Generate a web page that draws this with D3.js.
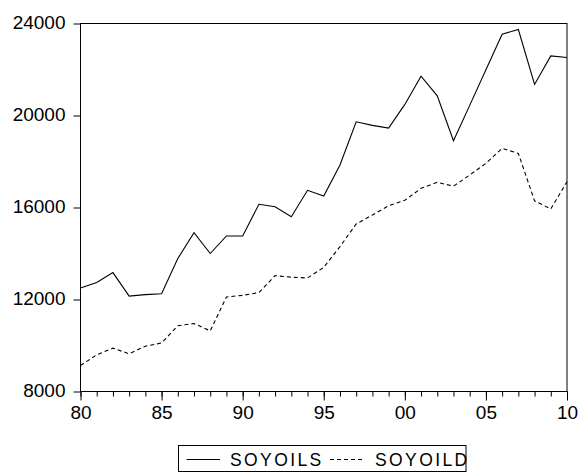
<!DOCTYPE html>
<html>
<head>
<meta charset="utf-8">
<script src="https://cdn.jsdelivr.net/npm/d3@7/dist/d3.min.js"></script>
<style>
  html, body { margin: 0; padding: 0; background: #fff; }
  svg { display: block; }
  text { font-family: "Liberation Sans", Arial, sans-serif; fill: #000; }
</style>
</head>
<body>
<svg id="chart" width="581" height="475"></svg>
<script>
const years = [1980,1981,1982,1983,1984,1985,1986,1987,1988,1989,1990,1991,1992,1993,1994,1995,1996,1997,1998,1999,2000,2001,2002,2003,2004,2005,2006,2007,2008,2009,2010];
const soyoils = [12500,12740,13170,12150,12210,12250,13780,14906,14000,14762,14762,16139,16035,15601,16747,16500,17846,19727,19570,19453,20482,21711,20856,18900,20440,21985,23535,23739,21351,22593,22523];
const soyoild = [9130,9594,9885,9640,9970,10110,10860,10954,10637,12113,12180,12300,13038,12969,12935,13400,14298,15284,15675,16078,16313,16834,17095,16925,17412,17920,18571,18354,16290,15940,17121];
const seriesNames = ["SOYOILS", "SOYOILD"];
const yTicks = [8000, 12000, 16000, 20000, 24000];
const xMajorTicks = [1980, 1985, 1990, 1995, 2000, 2005, 2010];
const xTickLabels = ["80", "85", "90", "95", "00", "05", "10"];

const svg = d3.select("#chart");
const L = 80.5, R = 567, T = 23.5, B = 391.5;
const x = d3.scaleLinear().domain([1980, 2010]).range([L, R]);
const y = d3.scaleLinear().domain([8000, 24000]).range([B, T]);

// frame
svg.append("rect").attr("x", L).attr("y", T).attr("width", R - L).attr("height", B - T)
  .attr("fill", "none").attr("stroke", "#000").attr("stroke-width", 1);

// y axis
const yAxis = d3.axisLeft(y).tickValues(yTicks).tickSize(7).tickPadding(8).tickFormat(d3.format("d"));
const gy = svg.append("g").attr("transform", `translate(${L},0)`).call(yAxis);
gy.select(".domain").remove();
gy.selectAll("line").attr("stroke", "#000");
gy.selectAll("text").attr("font-size", 19).attr("dy", "0.25em")
  .style("font-family", '"Liberation Sans", Arial, sans-serif');

// x axis minor ticks
const gxm = svg.append("g").attr("transform", `translate(0,${B})`)
  .call(d3.axisBottom(x).tickValues(years).tickSize(5).tickFormat(""));
gxm.select(".domain").remove();
gxm.selectAll("line").attr("stroke", "#000");
// x axis major ticks
const gx = svg.append("g").attr("transform", `translate(0,${B})`)
  .call(d3.axisBottom(x).tickValues(xMajorTicks).tickSize(9).tickPadding(5)
    .tickFormat((d, i) => xTickLabels[i]));
gx.select(".domain").remove();
gx.selectAll("line").attr("stroke", "#000");
gx.selectAll("text").attr("font-size", 19)
  .style("font-family", '"Liberation Sans", Arial, sans-serif');

// lines
const line = d3.line().x((d, i) => x(years[i])).y(d => y(d));
svg.append("path").datum(soyoils).attr("d", line)
  .attr("fill", "none").attr("stroke", "#000").attr("stroke-width", 1.1);
svg.append("path").datum(soyoild).attr("d", line)
  .attr("fill", "none").attr("stroke", "#000").attr("stroke-width", 1.1)
  .attr("stroke-dasharray", "4,3");

// legend
const lg = svg.append("g");
lg.append("rect").attr("x", 178.5).attr("y", 445.5).attr("width", 287.5).attr("height", 26)
  .attr("fill", "none").attr("stroke", "#000").attr("stroke-width", 1);
lg.append("line").attr("x1", 186.5).attr("x2", 220).attr("y1", 459.5).attr("y2", 459.5)
  .attr("stroke", "#000").attr("stroke-width", 1);
lg.append("text").attr("x", 230).attr("y", 466).attr("font-size", 17.5)
  .attr("letter-spacing", "2.4px").text(seriesNames[0]);
lg.append("line").attr("x1", 330).attr("x2", 364).attr("y1", 459.5).attr("y2", 459.5)
  .attr("stroke", "#000").attr("stroke-width", 1).attr("stroke-dasharray", "4,3");
lg.append("text").attr("x", 375).attr("y", 466).attr("font-size", 17.5)
  .attr("letter-spacing", "2.4px").text(seriesNames[1]);
</script>
</body>
</html>
